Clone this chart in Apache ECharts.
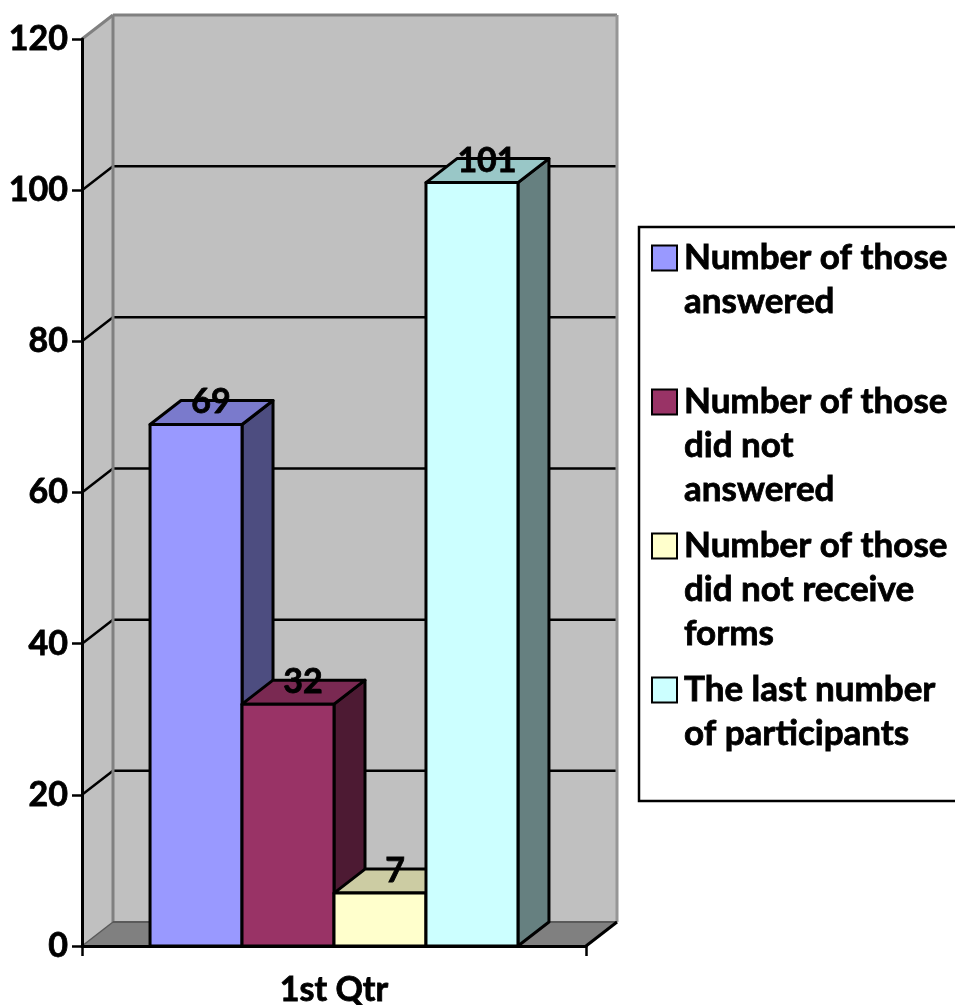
<!DOCTYPE html>
<html>
<head>
<meta charset="utf-8">
<style>html,body{margin:0;padding:0;background:#fff}#c{width:955px;height:1005px}</style>
<script src="https://cdn.jsdelivr.net/npm/echarts@6/dist/echarts.min.js"></script>
</head>
<body>
<div id="c"></div>
<script>
const categories = ['1st Qtr'];
const seriesNames = ['Number of those answered', 'Number of those did not answered', 'Number of those did not receive forms', 'The last number of participants'];
const legendLines = [
  ['Number of those', 'answered'],
  ['Number of those', 'did not', 'answered'],
  ['Number of those', 'did not receive', 'forms'],
  ['The last number', 'of participants']
];
const answered = [69];
const notAnswered = [32];
const notReceived = [7];
const lastNumber = [101];
const seriesValues = [answered, notAnswered, notReceived, lastNumber];
const frontColors = ['#9999FF', '#993366', '#FFFFCC', '#CCFFFF'];
const sideColors = ['#4D4D80', '#4D1A33', '#666652', '#668080'];
const topColors = ['#7A7ACC', '#7A2952', '#CCCCA3', '#99C7C7'];
const yTicks = [0, 20, 40, 60, 80, 100, 120];

const FONT = 'Lato';
const DX = 31, DY = -24;          // depth of the 3D projection
const BAR_SHARE = 0.1825;         // bar width as a share of the category band
const THICK = { textBorderColor: '#000', textBorderWidth: 0.8 };

function poly(points, fill, stroke, lw) {
  return { type: 'polygon', shape: { points }, style: { fill, stroke: stroke || 'none', lineWidth: lw || 0, lineJoin: 'round' } };
}
function seg(x1, y1, x2, y2, stroke, lw) {
  return { type: 'line', shape: { x1, y1, x2, y2 }, style: { stroke, lineWidth: lw } };
}

function renderWalls(params, api) {
  const c = params.coordSys;
  const L = c.x, R = c.x + c.width, T = c.y, B = c.y + c.height;
  const kids = [
    poly([[L + DX, T + DY], [R + DX, T + DY], [R + DX, B + DY], [L + DX, B + DY]], '#C0C0C0'),
    poly([[L, T], [L + DX, T + DY], [L + DX, B + DY], [L, B]], '#C0C0C0'),
    poly([[L, B], [L + DX, B + DY], [R + DX, B + DY], [R, B]], '#808080')
  ];
  yTicks.forEach(function (v) {
    const y = api.coord([0, v])[1];
    if (v > 0 && v < 120) {
      kids.push(seg(L, y, L + DX, y + DY, '#000', 2.5));
      kids.push(seg(L + DX, y + DY, R + DX, y + DY, '#000', 2.5));
    }
  });
  kids.push(seg(L + DX, T + DY, R + DX, T + DY, '#808080', 3));
  kids.push(seg(L, T, L + DX, T + DY, '#808080', 3));
  kids.push(seg(L + DX, T + DY, L + DX, B + DY, '#808080', 3));
  kids.push(seg(R + DX, T + DY, R + DX, B + DY, '#969696', 3));
  kids.push(seg(L + DX, B + DY, R + DX, B + DY, '#5a5a5a', 2));
  kids.push(seg(L, B, L + DX, B + DY, '#5a5a5a', 1.5));
  kids.push(seg(R, B, R + DX, B + DY, '#000', 3));
  return { type: 'group', children: kids };
}

function renderBar(i) {
  return function (params, api) {
    const v = api.value(1);
    const base = api.coord([api.value(0), 0]);
    const top = api.coord([api.value(0), v]);
    const w = api.size([1, 0])[0] * BAR_SHARE;
    const x0 = base[0] + (i - 2) * w;
    const x1 = x0 + w;
    const yB = base[1], yT = top[1];
    return {
      type: 'group',
      children: [
        poly([[x1, yT], [x1 + DX, yT + DY], [x1 + DX, yB + DY], [x1, yB]], sideColors[i], '#000', 3),
        poly([[x0, yT], [x0 + DX, yT + DY], [x1 + DX, yT + DY], [x1, yT]], topColors[i], '#000', 3),
        poly([[x0, yT], [x1, yT], [x1, yB], [x0, yB]], frontColors[i], '#000', 3)
      ]
    };
  };
}

function renderBarLabel(i) {
  return function (params, api) {
    const v = api.value(1);
    const top = api.coord([api.value(0), v]);
    const w = api.size([1, 0])[0] * BAR_SHARE;
    return {
      type: 'text',
      style: {
        text: String(v),
        x: top[0] + (i - 1.5) * w + 15,
        y: top[1] - 22,
        align: 'center',
        verticalAlign: 'middle',
        fill: '#000',
        stroke: '#000',
        lineWidth: 0.8,
        font: 'bold 34px ' + FONT
      }
    };
  };
}

const series = [{
  type: 'custom', name: 'walls', silent: true, z: 1,
  renderItem: renderWalls, data: [[0, 0]], clip: false
}];
seriesValues.forEach(function (vals, i) {
  series.push({
    type: 'custom', name: seriesNames[i], z: 3 + i, clip: false,
    itemStyle: { color: frontColors[i], borderColor: '#000', borderWidth: 2 },
    renderItem: renderBar(i),
    encode: { x: 0, y: 1 },
    data: vals.map(function (v, k) { return [k, v]; })
  });
});
seriesValues.forEach(function (vals, i) {
  series.push({
    type: 'custom', name: 'label ' + i, silent: true, z: 10, clip: false,
    renderItem: renderBarLabel(i),
    encode: { x: 0, y: 1 },
    data: vals.map(function (v, k) { return [k, v]; })
  });
});

const legendFirstLineY = [258, 402, 546, 690];
const LEGEND_LH = 44;
const legends = seriesNames.map(function (name, i) {
  const lines = legendLines[i];
  const pad = new Array(lines.length - 1).fill('').join('\n') + (lines.length > 1 ? '\n' : '');
  const text = pad + lines.join('\n');
  const total = 2 * lines.length - 1;
  return {
    data: [{ name: name, icon: 'rect', itemStyle: { color: frontColors[i], borderColor: '#000', borderWidth: 2 } }],
    orient: 'vertical',
    left: 651,
    top: legendFirstLineY[i] - total * LEGEND_LH / 2,
    padding: 0,
    itemWidth: 25,
    itemHeight: 25,
    itemGap: 0,
    selectedMode: false,
    formatter: function () { return text; },
    textStyle: Object.assign({ fontFamily: FONT, fontWeight: 'bold', fontSize: 35, color: '#000', lineHeight: LEGEND_LH, padding: [0, 0, 0, 2] }, THICK)
  };
});

const chart = echarts.init(document.getElementById('c'), null, { renderer: 'canvas' });
chart.setOption({
  animation: false,
  backgroundColor: '#fff',
  grid: { left: 82, right: 369, top: 39, bottom: 59, outerBoundsMode: 'none' },
  legend: legends,
  xAxis: {
    type: 'category',
    data: categories,
    boundaryGap: true,
    axisLine: { show: true, lineStyle: { color: '#000', width: 3 } },
    axisTick: { show: true, length: 10, lineStyle: { color: '#000', width: 2.5 }, alignWithLabel: false },
    axisLabel: Object.assign({ color: '#000', fontFamily: FONT, fontWeight: 'bold', fontSize: 34, margin: 27 }, THICK),
    z: 20
  },
  yAxis: {
    type: 'value',
    min: 0, max: 120, interval: 20,
    axisLine: { show: true, onZero: false, lineStyle: { color: '#000', width: 3 } },
    axisTick: { show: true, length: 10, lineStyle: { color: '#000', width: 2.5 } },
    axisLabel: Object.assign({ color: '#000', fontFamily: FONT, fontWeight: 'bold', fontSize: 34, margin: 14, formatter: function (v) { return String(v); } }, THICK),
    splitLine: { show: false },
    z: 20
  },
  graphic: [{
    type: 'rect', z: 0, silent: true,
    shape: { x: 639, y: 227, width: 330, height: 574 },
    style: { fill: '#fff', stroke: '#000', lineWidth: 2.5 }
  }],
  tooltip: { show: false },
  series: series
});
</script>
</body>
</html>
